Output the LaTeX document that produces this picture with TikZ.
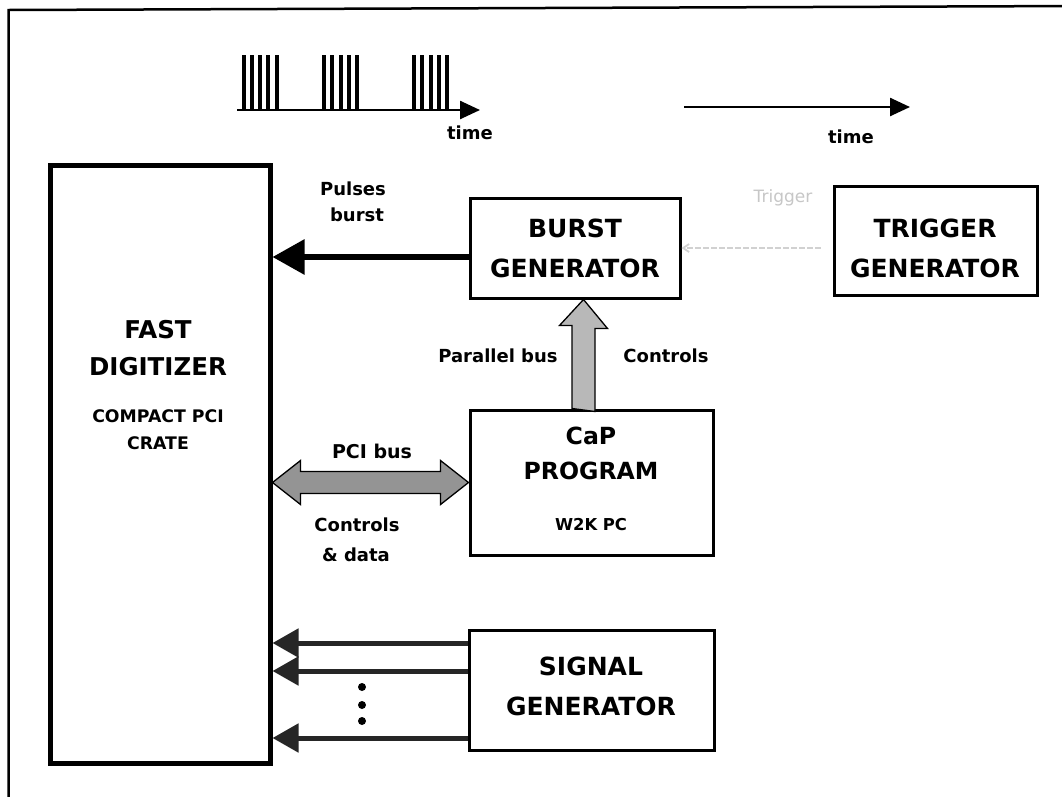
\documentclass[tikz,border=0pt]{standalone}
\usepackage{fontspec}
\setmainfont{DejaVu Sans}
\usetikzlibrary{arrows.meta,calc}
\tikzset{
  box/.style={draw=black,line width=3pt,rectangle,inner sep=0pt},
  bigbox/.style={draw=black,line width=5pt,rectangle,inner sep=0pt},
  lbl/.style={font=\fontsize{18}{21}\selectfont\bfseries,inner sep=0pt},
  lblr/.style={font=\fontsize{17}{20}\selectfont,inner sep=0pt},
  boxtxt/.style={font=\fontsize{25}{28}\selectfont\bfseries,inner sep=0pt},
  boxtxtsmall/.style={font=\fontsize{17.3}{22}\selectfont\bfseries,inner sep=0pt},
  thickarrow/.style={line width=6pt,-{Triangle[length=32pt,width=34pt]}},
  sigarrow/.style={draw=black!85,line width=5pt,-{Triangle[length=26pt,width=28pt]}},
  fatarrow/.style={draw=black,line width=1.3pt,line join=miter},
  axis/.style={line width=2.5pt,-{Triangle[length=20pt,width=18pt]}},
  pulse/.style={fill=black,draw=none},
}
\begin{document}
\begin{tikzpicture}[x=1pt,y=-1pt]
\useasboundingbox (0,0) rectangle (1062,796);
\fill[white] (0,0) rectangle (1062,796);
% outer frame (cut off at right and bottom)
\draw[line width=2.5pt] (8.5,900) -- (8.5,10) -- (1080,6);

% boxes
\node[bigbox,minimum width=220pt,minimum height=598pt] (dig) at (160,464) {};
\node[box,minimum width=210pt,minimum height=100pt] (burst) at (575,248) {};
\node[box,minimum width=203pt,minimum height=109pt] (trig) at (935.5,240.5) {};
\node[box,minimum width=243pt,minimum height=145pt] (cap) at (591.5,482.5) {};
\node[box,minimum width=245pt,minimum height=120pt] (sig) at (591.5,690) {};

% box texts
\node[boxtxt,font=\fontsize{24.5}{30}\selectfont\bfseries] (t1) at (158,330) {FAST};
\node[boxtxt,font=\fontsize{24.5}{30}\selectfont\bfseries] (t2) at (158,367) {DIGITIZER};
\node[boxtxtsmall] (t3) at (158,416) {COMPACT PCI};
\node[boxtxtsmall] (t4) at (158,443) {CRATE};
\node[boxtxt] (t5) at (575,228) {BURST};
\node[boxtxt] (t6) at (575,268) {GENERATOR};
\node[boxtxt] (t7) at (935,228) {TRIGGER};
\node[boxtxt] (t8) at (935,268) {GENERATOR};
\node[boxtxt,font=\fontsize{23.6}{30}\selectfont\bfseries] (t9) at (591,436) {CaP};
\node[boxtxt,font=\fontsize{23.6}{30}\selectfont\bfseries] (t10) at (591,471) {PROGRAM};
\node[boxtxtsmall,font=\fontsize{16.4}{22}\selectfont\bfseries] (t11) at (591,525) {W2K PC};
\node[boxtxt] (t12) at (591,666) {SIGNAL};
\node[boxtxt] (t13) at (591,706) {GENERATOR};

% labels
\node[lbl] (l1) at (353,189) {Pulses};
\node[lbl] (l2) at (357,215) {burst};
\node[lbl] (l3) at (498,356) {Parallel bus};
\node[lbl] (l4) at (666,356) {Controls};
\node[lbl,font=\fontsize{19}{22}\selectfont\bfseries] (l5) at (372,451) {PCI bus};
\node[lbl] (l6) at (357,525) {Controls};
\node[lbl] (l7) at (356,555) {\& data};
\node[lbl] (l8) at (470,133) {time};
\node[lbl] (l9) at (851,137) {time};
\node[lblr,text=black!22] (l10) at (783,198) {Trigger};

% pulse train
\coordinate (ax1) at (237,110);
\coordinate (ax2) at (480,110);
\draw[axis] (ax1) -- (ax2);
\foreach \x in {244,252,260,268,277,324,332,341,349,357,414,422,431,439,447}
  \fill[pulse] (\x-1.8,55) rectangle (\x+1.8,110);
% second time axis
\coordinate (ax3) at (684,107);
\coordinate (ax4) at (910,107);
\draw[axis] (ax3) -- (ax4);

% pulses burst arrow
\coordinate (pb) at ([yshift=-9pt]burst.west);
\draw[thickarrow] (pb) -- (pb -| dig.east);

% faint trigger line
\draw[black!18,line width=1.8pt,dash pattern=on 6pt off 2pt,-{Straight Barb[length=6pt,width=8pt]}] ([xshift=-12pt]trig.west |- burst.east) -- (burst.east);

% parallel bus fat arrow
\coordinate (pa) at ([xshift=-8pt]cap.north);
\filldraw[fatarrow,fill=black!28] (pa) ++(-11.5,0) -- ++(0,-83) -- ++(-12.5,0) -- (pa |- burst.south) -- ++(24,29) -- ++(-12.5,0) -- ++(0,83) -- cycle;

% PCI bus double fat arrow
\coordinate (pl) at (dig.east |- cap.west);
\coordinate (pr) at (cap.west);
\filldraw[fatarrow,fill=black!42] (pl) -- ++(28,-22) -- ++(0,11) -- ($(pr)+(-28,-11)$) -- ++(0,-11) -- (pr) -- ++(-28,22) -- ++(0,-11) -- ($(pl)+(28,11)$) -- ++(0,11) -- cycle;

% signal arrows
\coordinate (s1) at ([yshift=47pt]sig.west);
\coordinate (s2) at ([yshift=19pt]sig.west);
\coordinate (s3) at ([yshift=-48pt]sig.west);
\draw[sigarrow] (s1) -- (s1 -| dig.east);
\draw[sigarrow] (s2) -- (s2 -| dig.east);
\draw[sigarrow] (s3) -- (s3 -| dig.east);
\foreach \y [count=\i] in {687,705,721}
  \node[circle,fill=black,inner sep=0pt,minimum size=8pt] (d\i) at (362,\y) {};
\end{tikzpicture}
\end{document}
